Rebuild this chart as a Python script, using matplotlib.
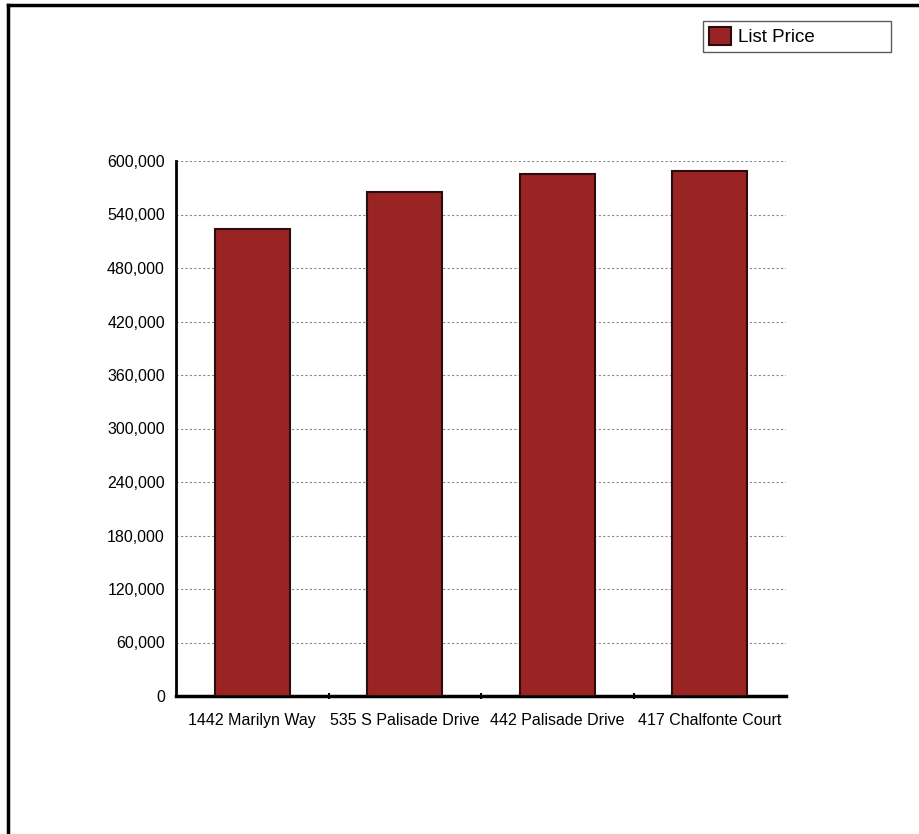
import matplotlib.pyplot as plt
from matplotlib.ticker import FuncFormatter, FixedLocator
from matplotlib.lines import Line2D

plt.rcParams['font.family'] = ['Liberation Sans', 'DejaVu Sans']

addresses = ['1442 Marilyn Way', '535 S Palisade Drive', '442 Palisade Drive', '417 Chalfonte Court']
list_price = [524000, 565000, 585500, 589000]
y_ticks = [0, 60000, 120000, 180000, 240000, 300000, 360000, 420000, 480000, 540000, 600000]

W, H = 919, 834
fig = plt.figure(figsize=(W / 100, H / 100), dpi=100)
ax = fig.add_axes([176 / W, 1 - 696 / H, (786 - 176) / W, (696 - 161) / H])

x = list(range(len(addresses)))
ax.bar(x, list_price, width=0.49, color='#9a2323', edgecolor='#2a0e0e', linewidth=1.5,
       label='List Price', zorder=3)

ax.set_xlim(-0.5, len(addresses) - 0.5)
ax.set_ylim(0, 600000)
ax.set_yticks(y_ticks)
ax.yaxis.set_major_formatter(FuncFormatter(lambda v, p: f'{int(v):,}'))
ax.tick_params(axis='y', length=0, labelsize=11.5, pad=8)
ax.set_xticks(x)
ax.set_xticklabels(addresses)
ax.tick_params(axis='x', length=0, labelsize=11.5, pad=12)
ax.xaxis.set_minor_locator(FixedLocator([0.5, 1.5, 2.5]))
ax.tick_params(axis='x', which='minor', length=4, width=1.5, direction='inout', color='black')

ax.grid(axis='y', linestyle=(0, (2, 2)), color='#888888', linewidth=0.8, zorder=0)
for s in ['top', 'right']:
    ax.spines[s].set_visible(False)
ax.spines['left'].set_linewidth(2)
ax.spines['bottom'].set_linewidth(2.5)

leg = fig.legend(loc='lower left', mode='expand',
                 bbox_to_anchor=(703 / W, 1 - 52 / H, 188 / W, 35 / H), fontsize=13.5,
                 frameon=True, fancybox=False, edgecolor='#333333', borderpad=0.3,
                 handlelength=1.2, handleheight=1.1, handletextpad=0.35, borderaxespad=0)
leg.get_frame().set_linewidth(1)

# outer border (left and top)
fig.add_artist(Line2D([8 / W, 8 / W], [0, 1 - 5 / H], color='black', linewidth=2.5))
fig.add_artist(Line2D([8 / W, 1], [1 - 5 / H, 1 - 5 / H], color='black', linewidth=2.5))

fig.savefig('out.png', dpi=100)
